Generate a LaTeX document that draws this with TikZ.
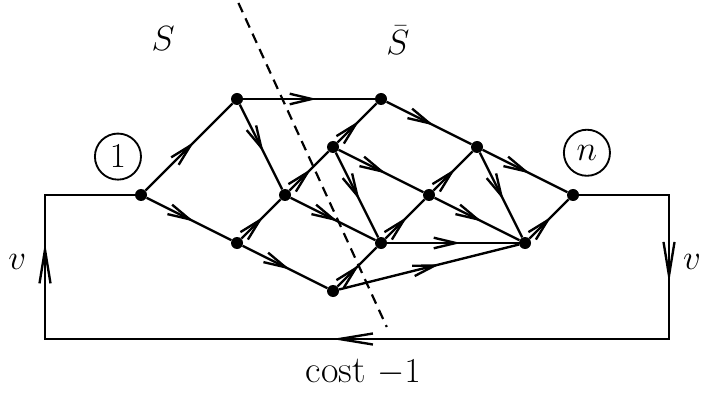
\documentclass[tikz,border=0pt]{standalone}
\usepackage{amsmath}
\usepackage{tikz}
\usetikzlibrary{arrows.meta,decorations.markings}
\tikzset{dot/.style={circle,fill,minimum size=2.5mm,inner sep=0pt},tag/.style={circle,draw,line width=1.1pt,minimum size=9.6mm,inner sep=0pt},link/.style={line width=1.4pt,postaction={decorate},decoration={markings,mark=at position .56 with {\arrow{Straight Barb[length=4.6mm,width=2.2mm]}}}},backline/.style={line width=1.4pt,postaction={decorate},decoration={markings,mark=at position #1 with {\arrow{Straight Barb[length=7mm,width=2.3mm]}}}},cut/.style={line width=1.3pt,dash pattern=on 6pt off 4pt}}

\begin{document}
\begin{tikzpicture}[x=1cm,y=1cm,font=\fontsize{22.5}{27}\selectfont]
  \useasboundingbox(-2.9375,-4.146)rectangle(11.729,4.0625);
  \foreach \n/\x/\y in {s/0/0,a/2/2,b/2/-1,c/3/0,d/4/1,e/5/2,f/5/-1,g/4/-2,h/6/0,i/7/1,j/8/-1,t/9/0}\node[dot](\n)at(\x,\y){};
  \foreach \u/\v in {s/a,s/b,a/e,a/c,b/c,b/g,c/d,c/f,d/e,d/h,d/f,e/i,f/h,f/j,g/f,g/j,h/i,h/j,i/t,i/j,j/t}\draw[link](\u)--(\v);
  % return path from n back to 1
  \coordinate(lt)at(-2,0);\coordinate(lb)at(-2,-3);\coordinate(rb)at(11,-3);\coordinate(rt)at(11,0);
  \draw[line width=1.4pt,line join=miter](s)--(lt)--(lb)--(rb)--(rt)--(t);
  \draw[backline=.67](lb)--(lt);\draw[backline=.61](rt)--(rb);\draw[backline=.54](rb)--(lb);
  \node(vl)at(-2.58,-1.4){$v$};\node(vr)at(11.48,-1.4){$v$};
  \node(cost)at(4.63,-3.69){cost $-1$};
  % the cut
  \coordinate(cuttop)at(2.03,4.0);\coordinate(cutbot)at(5.12,-2.75);
  \draw[cut](cuttop)--(cutbot);
  \node(S)at(.46,3.25){$S$};\node(Sbar)at(5.35,3.23){$\bar S$};
  \node[tag](one)at(-.48,.8){$1$};\node[tag](en)at(9.29,.88){$n$};
\end{tikzpicture}
\end{document}
